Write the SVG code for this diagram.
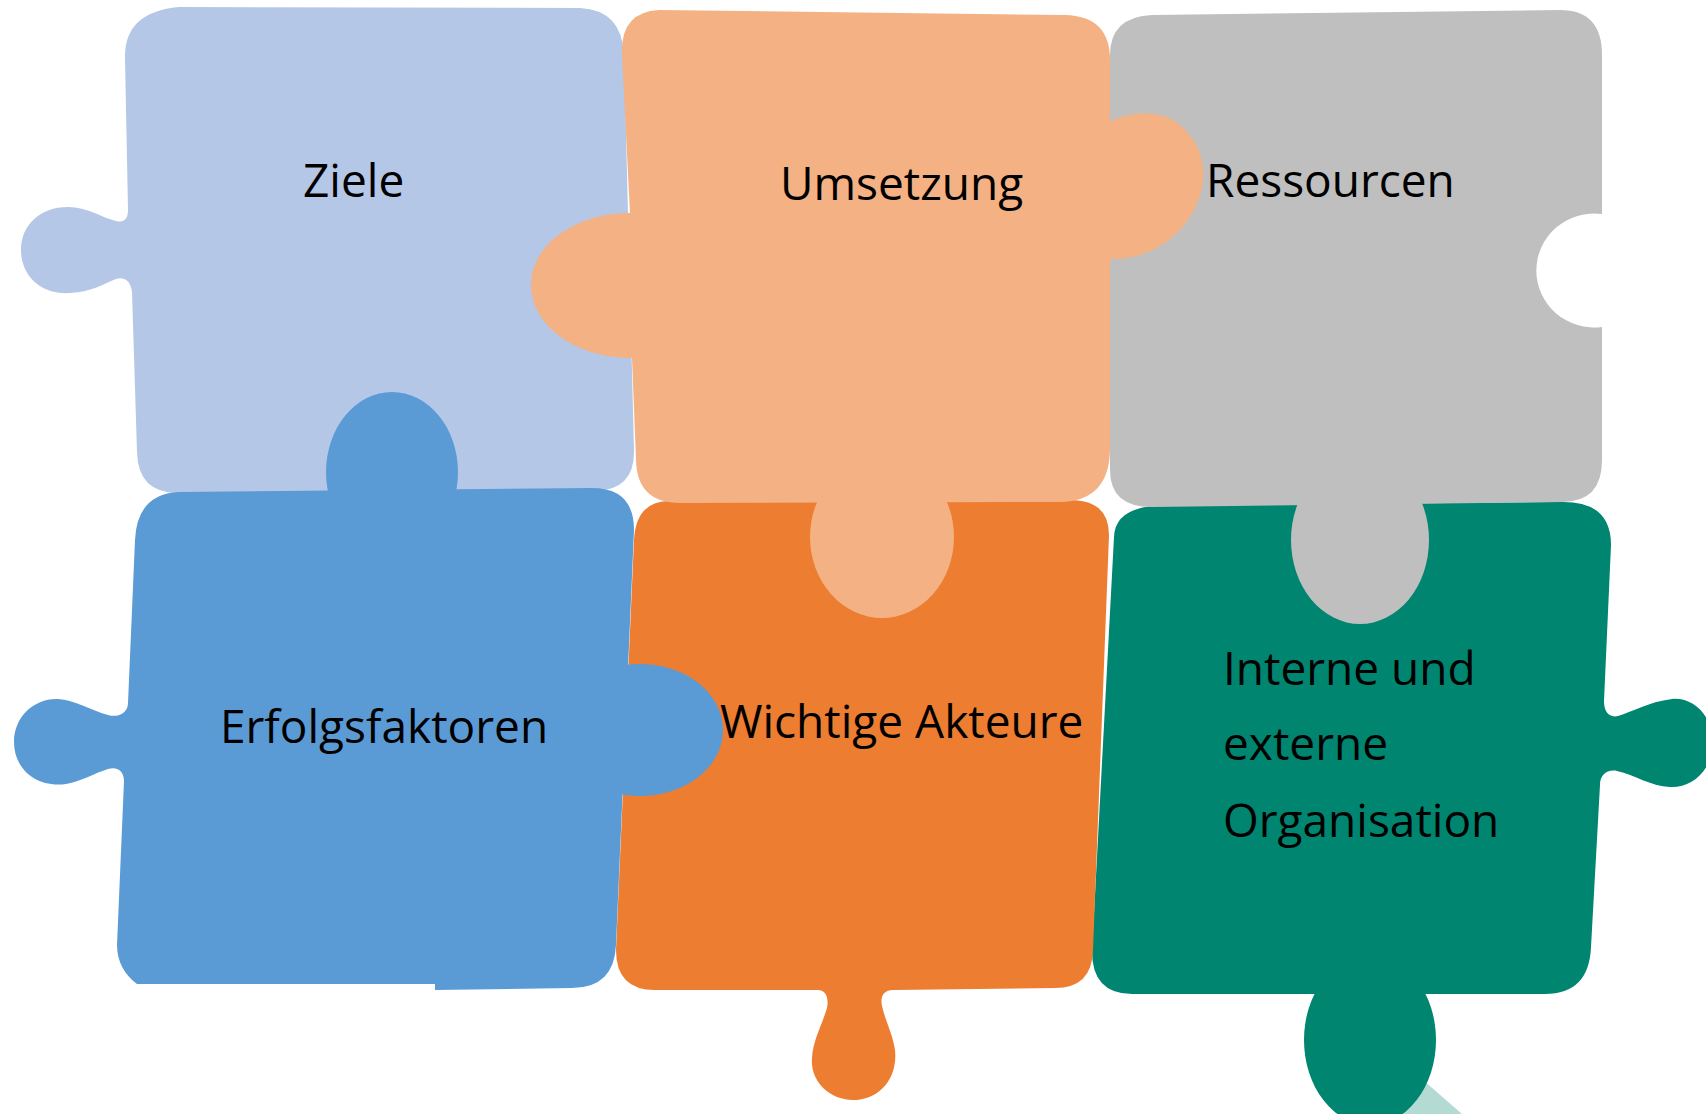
<svg xmlns="http://www.w3.org/2000/svg" width="1706" height="1114" viewBox="0 0 1706 1114">
  <style>
    .label { font-family: "Open Sans", "Noto Sans", "Liberation Sans", sans-serif; font-size: 46px; fill: #000000; }
    .ziele { fill: #B4C7E7; }
    .umsetzung { fill: #F4B183; }
    .ressourcen { fill: #BFBFBF; }
    .erfolg { fill: #5B9BD5; }
    .akteure { fill: #ED7D31; }
    .organisation { fill: #008570; }
    .organisation-shadow { fill: #B3DBD4; }
  </style>
  <rect x="0" y="0" width="1706" height="1114" fill="#FFFFFF"/>

  <!-- bottom right: internal and external organisation -->
  <g id="node-organisation">
    <polygon class="organisation-shadow" points="1380,1040 1423,1080 1462,1114 1380,1114"/>
    <path class="organisation" d="M 1152,506 L 1559,502 Q 1611,500 1611,545 L 1604,701 C 1604,712 1609,718 1618,716 C 1632,712 1648,702 1672,699 C 1695,697 1713,718 1713,742 C 1713,768 1694,788 1670,787 C 1650,786 1635,775 1617,771 C 1607,769 1600,775 1600,785 L 1591,947 Q 1589,994 1545,994 L 1132,994 Q 1092,994 1092,951 L 1114,537 Q 1115,510 1152,506 Z"/>
    <ellipse class="organisation" cx="1370" cy="1040" rx="66" ry="85"/>
    <text class="label" x="1223" y="685">Interne und</text>
    <text class="label" x="1223" y="760">externe</text>
    <text class="label" x="1223" y="837">Organisation</text>
  </g>

  <!-- top right: resources, with a socket on its right side -->
  <g id="node-ressourcen">
    <path class="ressourcen" d="M 1152,15 L 1560,10 Q 1602,10 1602,55 L 1602,214 A 58 57 0 1 0 1602,327 L 1602,460 Q 1602,502 1562,502 L 1152,507 Q 1110,507 1110,470 L 1110,55 Q 1110,17 1152,15 Z"/>
    <ellipse class="ressourcen" cx="1360" cy="540" rx="69" ry="84"/>
    <text class="label" x="1206" y="197">Ressourcen</text>
  </g>

  <!-- bottom middle: key actors -->
  <g id="node-akteure">
    <path class="akteure" d="M 668,501 L 1070,500 Q 1109,500 1109,535 L 1093,950 Q 1092,988 1055,988 L 893,990 C 884,990 880,996 882,1006 C 885,1020 893,1035 895,1050 C 898,1080 878,1100 853,1100 C 828,1100 810,1080 812,1058 C 813,1040 822,1025 827,1008 C 829,998 826,990 818,990 L 655,990 Q 616,990 616,950 L 634,540 Q 636,502 668,501 Z"/>
  </g>

  <!-- top left: goals -->
  <g id="node-ziele">
    <path class="ziele" d="M 179,7 L 580,8 Q 622,10 624,55 L 634,450 Q 635,490 595,491 L 180,493 Q 138,494 137,452 L 132,292 C 131,281 124,276 116,279 C 105,283 92,292 70,293 C 40,295 21,275 21,250 C 21,225 40,207 68,207 C 88,207 100,217 116,221 C 124,223 128,219 128,210 L 125,58 Q 124,12 179,7 Z"/>
    <text class="label" x="303" y="197">Ziele</text>
  </g>

  <!-- top middle: implementation, tabs to the left, right and bottom -->
  <g id="node-umsetzung">
    <path class="umsetzung" d="M 659,10 L 1065,15 Q 1110,16 1110,60 L 1110,122 C 1128,112 1160,108 1180,125 C 1198,140 1205,160 1203,180 C 1200,215 1170,255 1118,259 L 1110,259 L 1110,448 Q 1110,500 1062,502 L 680,503 Q 637,503 636,460 L 632,358 C 575,358 531,325 531,285 C 531,245 575,213 630,213 L 622,55 Q 620,12 659,10 Z"/>
    <ellipse class="umsetzung" cx="882" cy="537" rx="72" ry="81"/>
    <text class="label" x="780" y="200">Umsetzung</text>
  </g>

  <!-- bottom left: success factors, tabs to the top and right -->
  <g id="node-erfolgsfaktoren">
    <ellipse class="erfolg" cx="392" cy="472" rx="66" ry="80"/>
    <ellipse class="erfolg" cx="640" cy="730" rx="83" ry="66"/>
    <path class="erfolg" d="M 179,492 L 592,488 Q 634,488 634,530 L 616,945 Q 614,988 572,988 L 435,990 L 435,984 L 137,984 C 125,975 117,962 117,945 L 124,781 C 124,772 118,766 108,769 C 95,773 82,781 66,784 C 35,788 14,768 14,742 C 14,716 35,698 58,699 C 75,700 90,710 108,715 C 118,718 128,713 128,703 L 135,540 Q 137,494 179,492 Z"/>
    <text class="label" x="220" y="743">Erfolgsfaktoren</text>
  </g>

  <g id="connectors"></g>

  <!-- label drawn last so the blue tab does not cover it -->
  <text class="label" x="720" y="738">Wichtige Akteure</text>
</svg>
